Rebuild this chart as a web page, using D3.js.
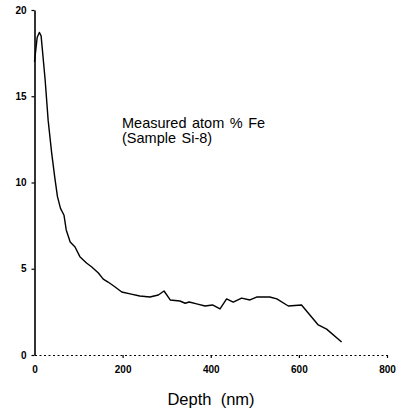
<!DOCTYPE html>
<html>
<head>
<meta charset="utf-8">
<script src="https://cdn.jsdelivr.net/npm/d3@7"></script>
<style>
  body { margin: 0; background: #fff; }
  svg { display: block; }
  .tick text { font-family: "Liberation Sans", Arial, sans-serif; font-weight: bold; font-size: 10px; fill: #000; }
</style>
</head>
<body>
<svg id="chart" width="396" height="413"></svg>
<script>
// depth (nm) and measured atom % Fe
let depth = [0, 3, 6, 11, 15, 24, 31, 39, 46, 52, 59, 67, 72, 81, 92, 103, 118, 130, 145, 156,
             167, 183, 198, 217, 239, 262, 281, 294, 308, 330, 342, 351, 368, 387, 404, 421, 436,
             451, 470, 489, 504, 534, 550, 576, 606, 625, 644, 663, 697]
let fe = [17.0, 17.7, 18.4, 18.7, 18.5, 16.0, 13.6, 11.7, 10.3, 9.2, 8.5, 8.1, 7.25, 6.55, 6.26, 5.7, 5.33, 5.1, 4.75, 4.4,
          4.23, 3.94, 3.65, 3.54, 3.42, 3.36, 3.48, 3.71, 3.19, 3.13, 3.0, 3.07, 2.96, 2.84, 2.9, 2.67, 3.25,
          3.07, 3.3, 3.19, 3.36, 3.36, 3.25, 2.84, 2.9, 2.32, 1.74, 1.5, 0.75]

let xTicks = [0, 200, 400, 600, 800]
let yTicks = [0, 5, 10, 15, 20]
let titleLines = ['Measured atom % Fe', '(Sample Si-8)']
let xLabel = 'Depth  (nm)'

let svg = d3.select('#chart')

let xScale = d3.scaleLinear().domain([0, 800]).range([34.5, 387])
let yScale = d3.scaleLinear().domain([0, 20]).range([355, 10])

// x axis: dotted baseline
let xAxis = d3.axisBottom(xScale)
    .tickValues(xTicks)
    .tickSize(3)
    .tickSizeOuter(0)
    .tickPadding(8)

let gx = svg.append('g')
    .attr('transform', 'translate(0,' + yScale(0) + ')')
    .call(xAxis)
gx.select('.domain')
    .attr('stroke', '#000')
    .attr('stroke-width', 1)
    .attr('stroke-dasharray', '2,2.5')
gx.selectAll('.tick line').attr('stroke', '#000').attr('stroke-width', 1.2)
gx.selectAll('.tick').filter((d) => d === 0).select('line').remove()

// y axis
let yAxis = d3.axisLeft(yScale)
    .tickValues(yTicks)
    .tickSize(3)
    .tickSizeOuter(0)
    .tickPadding(5)

let gy = svg.append('g')
    .attr('transform', 'translate(' + xScale(0) + ',0)')
    .call(yAxis)
gy.select('.domain').attr('stroke', '#000').attr('stroke-width', 1.6)
gy.selectAll('.tick line').attr('stroke', '#000').attr('stroke-width', 1.2)

// profile curve
let line = d3.line()
    .x((d, i) => xScale(depth[i]))
    .y((d) => yScale(d))

svg.append('path')
    .datum(fe)
    .attr('d', line)
    .attr('fill', 'none')
    .attr('stroke', '#000')
    .attr('stroke-width', 1.4)
    .attr('stroke-linejoin', 'round')

// annotation, two lines
titleLines.forEach((t, i) => {
    svg.append('text')
        .attr('x', 122)
        .attr('y', 128 + i * 15)
        .style('font-family', '"Liberation Sans", Arial, sans-serif')
        .style('font-size', '14.5px')
        .style('word-spacing', '1.5px')
        .text(t)
})

svg.append('text')
    .attr('x', 211)
    .attr('y', 405)
    .attr('text-anchor', 'middle')
    .style('font-family', '"Liberation Sans", Arial, sans-serif')
    .style('font-size', '16.5px')
    .style('white-space', 'pre')
    .text(xLabel)
</script>
</body>
</html>
